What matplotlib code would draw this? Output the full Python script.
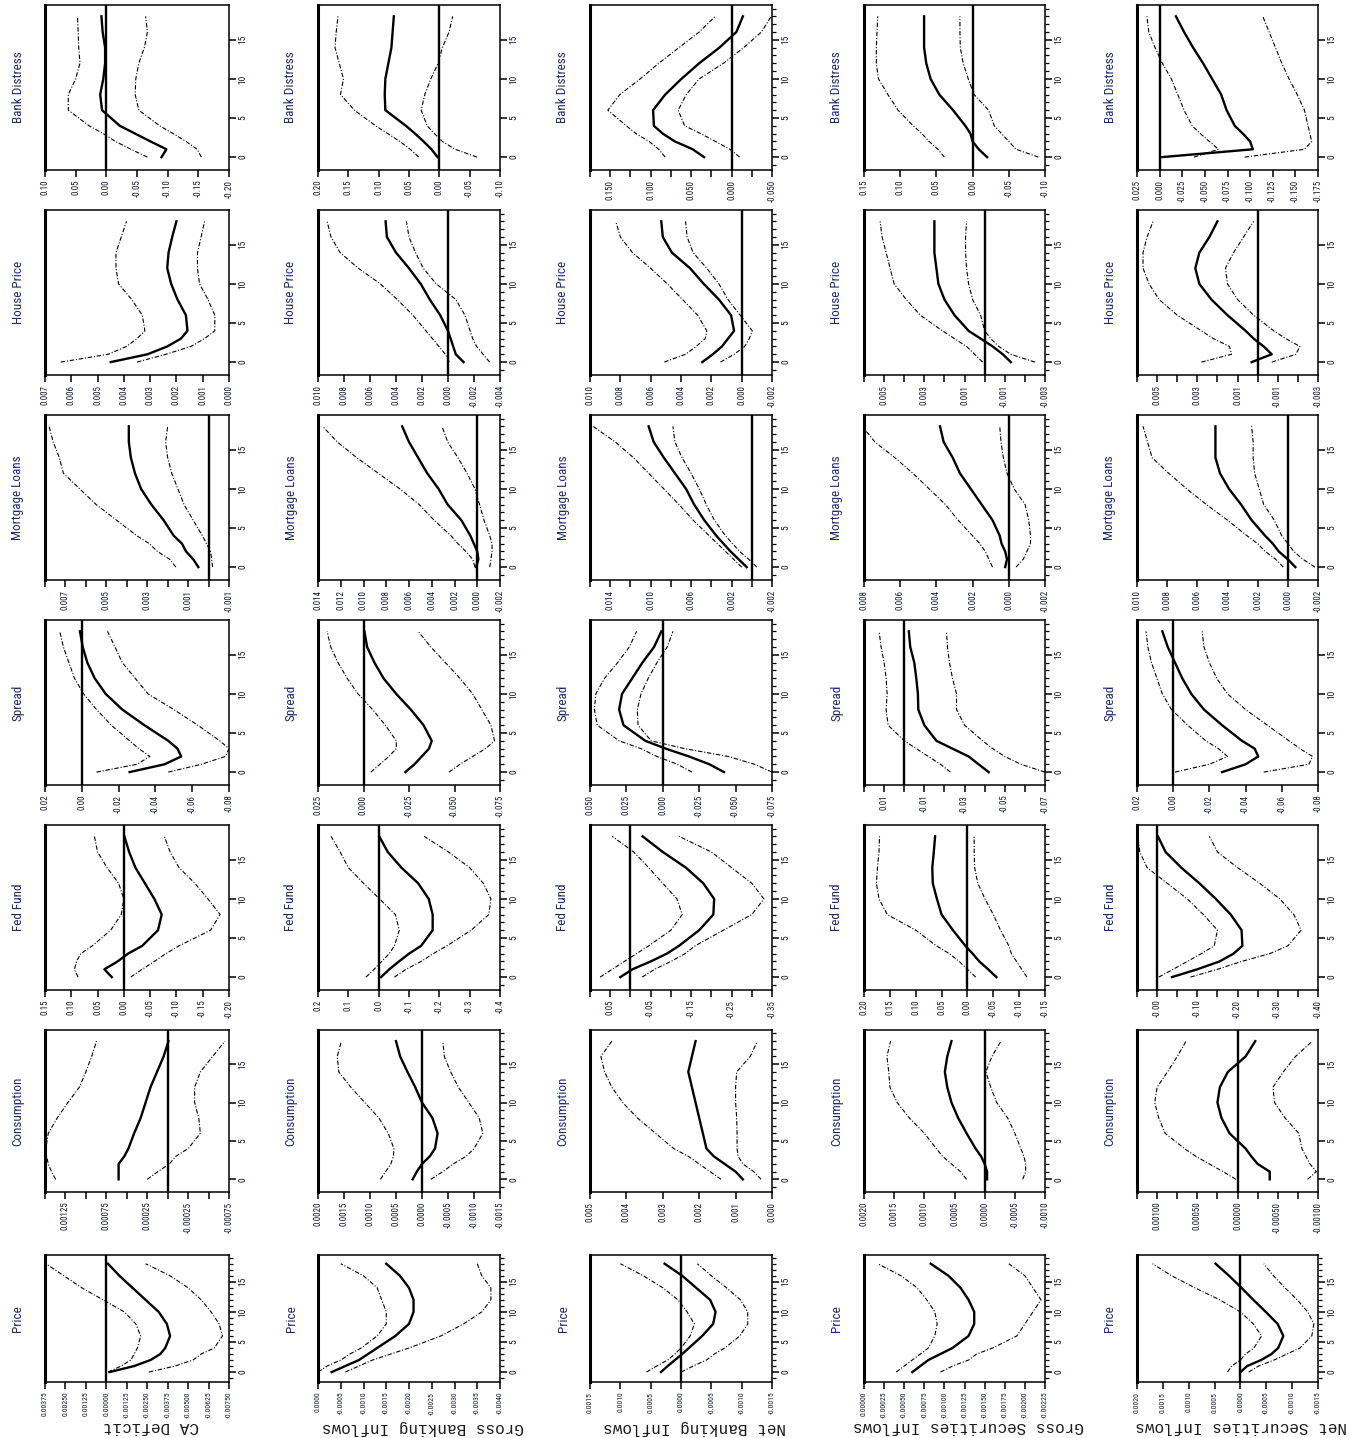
import matplotlib
matplotlib.use("Agg")
import matplotlib.pyplot as plt
from matplotlib import font_manager

horizons = [0, 1, 2, 3, 4, 6, 8, 10, 12, 14, 16, 18]

variables = ["Bank Distress", "House Price", "Mortgage Loans", "Spread",
             "Fed Fund", "Consumption", "Price"]
shocks = ["CA Deficit", "Gross Banking Inflows", "Net Banking Inflows",
          "Gross Securities Inflows", "Net Securities Inflows"]

# each panel: [upper band, point estimate, lower band]
ca_bank = [[-0.067, -0.04, -0.015, 0.005, 0.028, 0.062, 0.062, 0.05, 0.043, 0.045, 0.046, 0.047],
           [-0.09, -0.098, -0.072, -0.047, -0.022, 0.007, 0.01, 0.005, 0.002, 0.002, 0.006, 0.008],
           [-0.155, -0.148, -0.13, -0.109, -0.087, -0.053, -0.047, -0.048, -0.053, -0.062, -0.067, -0.064]]
ca_house = [[0.0064, 0.0046, 0.0039, 0.0035, 0.0032, 0.0033, 0.0037, 0.0042, 0.0043, 0.0043, 0.0041, 0.0039],
            [0.0045, 0.0031, 0.00235, 0.00183, 0.00158, 0.00164, 0.00196, 0.0022, 0.00235, 0.0023, 0.00216, 0.002],
            [0.0035, 0.0024, 0.00145, 0.00093, 0.00054, 0.00054, 0.0008, 0.00112, 0.0012, 0.0012, 0.00106, 0.00093]]
ca_mortgage = [[0.0016, 0.0019, 0.0025, 0.0029, 0.0035, 0.0045, 0.0055, 0.0063, 0.0071, 0.0073, 0.0076, 0.0078],
               [0.0005, 0.00075, 0.0011, 0.0013, 0.0017, 0.0022, 0.0028, 0.0033, 0.0036, 0.0038, 0.0039, 0.0039],
               [-0.0002, -0.00015, -0.0001, 0.0001, 0.0003, 0.00075, 0.0012, 0.0015, 0.0018, 0.002, 0.0021, 0.002]]
ca_spread = [[-0.008, -0.03, -0.037, -0.031, -0.026, -0.016, -0.008, -0.001, 0.004, 0.007, 0.010, 0.012],
             [-0.026, -0.045, -0.054, -0.052, -0.047, -0.034, -0.022, -0.013, -0.007, -0.003, -0.0005, 0.001],
             [-0.047, -0.065, -0.078, -0.08, -0.075, -0.063, -0.05, -0.036, -0.029, -0.022, -0.018, -0.014]]
ca_fed = [[0.087, 0.094, 0.09, 0.082, 0.06, 0.025, 0.005, 0.0, 0.01, 0.032, 0.05, 0.056],
          [0.023, 0.037, 0.012, -0.008, -0.035, -0.065, -0.072, -0.058, -0.04, -0.022, -0.01, -0.001],
          [-0.013, -0.035, -0.058, -0.08, -0.105, -0.165, -0.183, -0.16, -0.135, -0.105, -0.088, -0.077]]
ca_cons = [[0.00137, 0.00142, 0.00146, 0.00148, 0.00149, 0.00146, 0.00135, 0.00122, 0.00108, 0.001, 0.00093, 0.00087],
           [0.0006, 0.0006, 0.0006, 0.00053, 0.00048, 0.00041, 0.00033, 0.00027, 0.00021, 0.00013, 0.00005, -0.00001],
           [0.00025, 0.00012, -0.00002, -0.0001, -0.00025, -0.0004, -0.00038, -0.00033, -0.00033, -0.0004, -0.00055, -0.0007]]
ca_price = [[-0.0001, -0.0009, -0.0015, -0.0017, -0.0019, -0.0021, -0.0018, -0.0011, 0.0002, 0.0015, 0.0026, 0.0037],
            [-0.0002, -0.0017, -0.0027, -0.0033, -0.0036, -0.0039, -0.0037, -0.0032, -0.0024, -0.0016, -0.0008, -0.0001],
            [-0.0026, -0.0042, -0.0053, -0.0058, -0.0066, -0.0071, -0.0069, -0.0064, -0.0058, -0.005, -0.0039, -0.0024]]

gb_bank = [[0.034, 0.048, 0.065, 0.085, 0.105, 0.14, 0.163, 0.158, 0.165, 0.172, 0.17, 0.167],
           [0.003, 0.013, 0.026, 0.04, 0.055, 0.089, 0.09, 0.089, 0.084, 0.079, 0.077, 0.075],
           [-0.062, -0.026, -0.005, 0.008, 0.02, 0.03, 0.024, 0.014, 0.002, -0.005, -0.016, -0.022]]
gb_house = [[-0.0001, 0.0002, 0.0007, 0.0012, 0.0017, 0.0027, 0.0039, 0.0052, 0.0069, 0.0083, 0.009, 0.0093],
            [-0.0012, -0.0006, -0.0004, -0.0002, 0.0, 0.0006, 0.0014, 0.0021, 0.003, 0.004, 0.0047, 0.0048],
            [-0.0032, -0.0027, -0.0022, -0.0019, -0.0017, -0.0013, -0.0006, 0.0009, 0.0019, 0.0025, 0.003, 0.0032]]
gb_mortgage = [[0.0002, 0.0004, 0.001, 0.0017, 0.0023, 0.0038, 0.0051, 0.0068, 0.0087, 0.0106, 0.0123, 0.0136],
               [0.0001, -0.0001, 0.0, 0.0003, 0.0006, 0.0014, 0.0026, 0.0034, 0.0044, 0.0052, 0.006, 0.0066],
               [-0.0011, -0.0012, -0.0013, -0.0013, -0.0011, -0.0006, -0.0002, 0.0002, 0.0009, 0.0017, 0.0026, 0.0031]]
gb_spread = [[-0.004, -0.009, -0.014, -0.018, -0.018, -0.012, -0.005, 0.003, 0.009, 0.014, 0.018, 0.02],
             [-0.023, -0.028, -0.032, -0.036, -0.0375, -0.033, -0.026, -0.018, -0.011, -0.006, -0.002, -0.0005],
             [-0.047, -0.053, -0.06, -0.067, -0.072, -0.07, -0.065, -0.06, -0.053, -0.045, -0.037, -0.03]]
gb_fed = [[0.042, 0.015, -0.01, -0.035, -0.052, -0.068, -0.055, -0.003, 0.05, 0.1, 0.127, 0.157],
          [-0.008, -0.035, -0.067, -0.1, -0.14, -0.178, -0.178, -0.165, -0.13, -0.075, -0.03, -0.002],
          [-0.052, -0.09, -0.14, -0.18, -0.225, -0.305, -0.363, -0.37, -0.345, -0.3, -0.23, -0.15]]
gb_cons = [[0.0008, 0.0007, 0.0006, 0.00055, 0.00054, 0.00065, 0.00083, 0.0011, 0.00137, 0.0016, 0.00163, 0.00155],
           [0.00018, 0.0001, 0.0, -0.00015, -0.00025, -0.0003, -0.0002, 0.0, 0.00013, 0.00028, 0.00042, 0.0005],
           [-0.00017, -0.0004, -0.0006, -0.00085, -0.001, -0.00117, -0.0011, -0.0009, -0.0007, -0.00055, -0.00043, -0.0004]]
gb_price = [[0.0, -0.0002, -0.0005, -0.0007, -0.00095, -0.0013, -0.0015, -0.0015, -0.0014, -0.0013, -0.001, -0.0005],
            [-0.0003, -0.0006, -0.0009, -0.0011, -0.0013, -0.0017, -0.002, -0.0021, -0.0021, -0.002, -0.0018, -0.0015],
            [-0.0006, -0.0009, -0.0012, -0.0016, -0.002, -0.0027, -0.0032, -0.0036, -0.0038, -0.0038, -0.0036, -0.0035]]

nb_bank = [[0.082, 0.09, 0.102, 0.118, 0.13, 0.153, 0.138, 0.113, 0.09, 0.065, 0.04, 0.02],
           [0.034, 0.048, 0.07, 0.085, 0.096, 0.097, 0.082, 0.062, 0.04, 0.015, -0.006, -0.014],
           [-0.01, 0.002, 0.02, 0.038, 0.058, 0.066, 0.056, 0.04, 0.01, -0.015, -0.037, -0.049]]
nb_house = [[0.0051, 0.0037, 0.003, 0.0024, 0.0023, 0.0029, 0.0039, 0.0049, 0.006, 0.0072, 0.008, 0.0083],
            [0.0026, 0.0019, 0.0013, 0.0009, 0.0005, 0.0007, 0.0015, 0.0025, 0.0034, 0.0046, 0.0052, 0.0053],
            [0.0014, 0.0005, -0.0002, -0.0005, -0.0007, 0.0001, 0.0009, 0.0015, 0.0023, 0.0032, 0.0036, 0.0037]]
nb_mortgage = [[0.001, 0.0018, 0.0026, 0.0034, 0.0042, 0.0058, 0.0072, 0.0087, 0.0102, 0.0117, 0.0135, 0.0157],
               [0.0005, 0.0013, 0.0021, 0.0028, 0.0035, 0.0047, 0.0057, 0.0065, 0.0076, 0.0087, 0.0097, 0.0102],
               [-0.0005, 0.0003, 0.0012, 0.0019, 0.0026, 0.0037, 0.0045, 0.0052, 0.006, 0.0069, 0.0076, 0.0078]]
nb_spread = [[-0.02, -0.01, 0.004, 0.015, 0.03, 0.045, 0.047, 0.046, 0.04, 0.031, 0.023, 0.018],
             [-0.042, -0.032, -0.018, -0.002, 0.012, 0.027, 0.03, 0.028, 0.021, 0.014, 0.006, 0.001],
             [-0.075, -0.063, -0.045, -0.015, 0.008, 0.017, 0.0175, 0.015, 0.01, 0.004, -0.003, -0.007]]
nb_fed = [[0.075, 0.045, 0.015, -0.015, -0.045, -0.1, -0.128, -0.115, -0.08, -0.045, -0.008, 0.045],
          [0.025, -0.005, -0.05, -0.09, -0.12, -0.17, -0.205, -0.207, -0.18, -0.137, -0.08, -0.03],
          [-0.029, -0.06, -0.1, -0.135, -0.16, -0.23, -0.3, -0.33, -0.3, -0.25, -0.2, -0.12]]
nb_cons = [[0.0014, 0.0017, 0.002, 0.0023, 0.0027, 0.0032, 0.0037, 0.0041, 0.0044, 0.0046, 0.0047, 0.0044],
           [0.0008, 0.001, 0.0013, 0.0016, 0.0018, 0.0019, 0.002, 0.0021, 0.0022, 0.0023, 0.0022, 0.0021],
           [0.0003, 0.0005, 0.0008, 0.00093, 0.00096, 0.00096, 0.00097, 0.001, 0.001, 0.00097, 0.0006, 0.0004]]
nb_price = [[0.00057, 0.0004, 0.00022, 0.0001, 0.0, -0.00015, -0.00022, -0.0001, 0.00005, 0.0003, 0.00062, 0.001],
            [0.00033, 0.00022, 0.0001, -0.00002, -0.00013, -0.00035, -0.00053, -0.00057, -0.00048, -0.00025, -0.00002, 0.00027],
            [0.0, -0.0002, -0.00042, -0.00055, -0.00072, -0.00097, -0.0011, -0.0011, -0.00098, -0.00075, -0.0005, -0.00027]]

gs_bank = [[0.039, 0.048, 0.06, 0.07, 0.082, 0.103, 0.117, 0.13, 0.133, 0.133, 0.132, 0.131],
           [-0.02, -0.0085, 0.0, 0.003, 0.01, 0.027, 0.046, 0.058, 0.064, 0.067, 0.067, 0.067],
           [-0.091, -0.06, -0.05, -0.04, -0.03, -0.022, -0.002, 0.006, 0.013, 0.017, 0.0175, 0.0175]]
gs_house = [[0.0001, 0.0005, 0.0009, 0.0015, 0.0021, 0.0032, 0.0039, 0.0045, 0.0047, 0.0049, 0.0051, 0.0052],
            [-0.0013, -0.0009, -0.0004, 0.0002, 0.0008, 0.0015, 0.002, 0.0023, 0.0024, 0.0025, 0.0025, 0.0025],
            [-0.0025, -0.0013, -0.0007, -0.0003, 0.0, 0.0002, 0.0006, 0.0008, 0.0009, 0.00095, 0.00095, 0.0009]]
gs_mortgage = [[0.0009, 0.0011, 0.0013, 0.0016, 0.002, 0.0028, 0.0035, 0.0044, 0.0053, 0.0063, 0.0074, 0.0081],
               [0.0002, 0.0001, 0.0002, 0.0004, 0.0005, 0.0009, 0.0015, 0.0021, 0.0027, 0.0031, 0.0036, 0.0038],
               [-0.0004, -0.0008, -0.001, -0.0012, -0.0012, -0.0011, -0.0009, -0.0003, 0.0001, 0.0003, 0.00043, 0.0005]]
gs_spread = [[-0.023, -0.018, -0.012, -0.006, 0.0, 0.008, 0.009, 0.0085, 0.009, 0.01, 0.0115, 0.0125],
             [-0.042, -0.037, -0.032, -0.024, -0.016, -0.01, -0.007, -0.0068, -0.006, -0.005, -0.003, -0.0023],
             [-0.07, -0.058, -0.05, -0.044, -0.039, -0.03, -0.026, -0.026, -0.024, -0.0225, -0.0215, -0.021]]
gs_fed = [[-0.016, 0.0, 0.016, 0.035, 0.06, 0.1, 0.155, 0.171, 0.176, 0.174, 0.171, 0.17],
          [-0.056, -0.04, -0.023, -0.01, 0.004, 0.028, 0.05, 0.059, 0.067, 0.068, 0.065, 0.0625],
          [-0.115, -0.105, -0.095, -0.085, -0.08, -0.064, -0.05, -0.034, -0.02, -0.014, -0.013, -0.013]]
gs_cons = [[0.0003, 0.0004, 0.00055, 0.0007, 0.0008, 0.001, 0.00125, 0.00145, 0.00157, 0.00159, 0.00162, 0.00156],
           [-0.00004, -0.00004, 0.0, 0.00006, 0.00015, 0.0003, 0.00044, 0.00055, 0.00062, 0.00066, 0.00062, 0.00055],
           [-0.00063, -0.00068, -0.00068, -0.00065, -0.0006, -0.0005, -0.00038, -0.0002, -0.0001, -0.00002, -0.00012, -0.00027]]
gs_price = [[-0.0004, -0.0005, -0.0006, -0.0007, -0.0008, -0.00088, -0.00091, -0.00088, -0.00078, -0.00066, -0.00046, -0.00017],
            [-0.0006, -0.0007, -0.0008, -0.00095, -0.0011, -0.0013, -0.00137, -0.00137, -0.0013, -0.0012, -0.00105, -0.00083],
            [-0.00095, -0.0011, -0.0013, -0.0014, -0.0016, -0.0019, -0.002, -0.0021, -0.0022, -0.0021, -0.002, -0.0018]]

ns_bank = [[-0.038, -0.065, -0.055, -0.045, -0.036, -0.027, -0.02, -0.013, -0.003, 0.005, 0.012, 0.014],
           [-0.003, -0.103, -0.1, -0.092, -0.083, -0.074, -0.068, -0.058, -0.048, -0.037, -0.027, -0.018],
           [-0.094, -0.16, -0.168, -0.166, -0.164, -0.16, -0.152, -0.143, -0.135, -0.128, -0.121, -0.114]]
ns_house = [[0.0028, 0.0013, 0.0014, 0.0022, 0.0028, 0.004, 0.0049, 0.0054, 0.0057, 0.0057, 0.0055, 0.0052],
            [0.0003, -0.0007, -0.0003, 0.0002, 0.0006, 0.0015, 0.0023, 0.0029, 0.0031, 0.0029, 0.0024, 0.002],
            [-0.0007, -0.0019, -0.0021, -0.0014, -0.0008, 0.0002, 0.001, 0.0015, 0.0016, 0.0012, 0.0007, 0.0002]]
ns_mortgage = [[0.0003, 0.0008, 0.0015, 0.002, 0.0027, 0.004, 0.0054, 0.0067, 0.0079, 0.009, 0.0093, 0.0096],
               [-0.0005, 0.0, 0.0006, 0.001, 0.0015, 0.0024, 0.0031, 0.0039, 0.0045, 0.0048, 0.0048, 0.0048],
               [-0.0018, -0.001, -0.0004, 0.0, 0.0004, 0.0009, 0.0016, 0.0019, 0.0022, 0.0023, 0.0023, 0.0024]]
ns_spread = [[-0.001, -0.02, -0.03, -0.025, -0.018, -0.008, 0.001, 0.006, 0.009, 0.012, 0.014, 0.015],
             [-0.027, -0.04, -0.047, -0.045, -0.038, -0.027, -0.017, -0.01, -0.005, -0.001, 0.003, 0.006],
             [-0.05, -0.075, -0.077, -0.07, -0.064, -0.052, -0.04, -0.03, -0.024, -0.02, -0.017, -0.016]]
ns_fed = [[-0.004, -0.04, -0.075, -0.11, -0.142, -0.15, -0.115, -0.075, -0.025, 0.025, 0.043, 0.048],
          [-0.037, -0.1, -0.155, -0.19, -0.212, -0.21, -0.183, -0.146, -0.105, -0.06, -0.021, -0.002],
          [-0.083, -0.15, -0.21, -0.28, -0.325, -0.358, -0.34, -0.305, -0.255, -0.2, -0.15, -0.13]]
ns_cons = [[0.00002, 0.00018, 0.00035, 0.00052, 0.00066, 0.0009, 0.00098, 0.00103, 0.001, 0.00087, 0.00075, 0.00064],
           [-0.0004, -0.0004, -0.00025, -0.00017, -0.0001, 0.0001, 0.0002, 0.00025, 0.00022, 0.00012, -0.0001, -0.00022],
           [-0.00087, -0.00098, -0.0009, -0.00085, -0.0008, -0.00076, -0.00059, -0.00046, -0.00044, -0.00057, -0.00072, -0.00093]]
ns_price = [[0.00025, 0.00017, 0.0, -0.0001, -0.00026, -0.00041, -0.00025, 0.0, 0.0004, 0.00088, 0.00133, 0.0017],
            [0.0, -0.00013, -0.0004, -0.0006, -0.00073, -0.00083, -0.00072, -0.00049, -0.00025, -0.00002, 0.00022, 0.00048],
            [-0.00016, -0.00035, -0.00065, -0.0009, -0.00115, -0.00138, -0.00142, -0.0013, -0.0011, -0.00086, -0.00064, -0.00045]]

# value axes per panel: (top of scale, bottom of scale, labelled ticks, unlabelled ticks, decimals)
ca_axes = [(0.10, -0.20, [0.10, 0.05, 0.0, -0.05, -0.10, -0.15, -0.20], [], 2),
           (0.007, 0.0, [0.007, 0.006, 0.005, 0.004, 0.003, 0.002, 0.001, 0.0], [], 3),
           (0.008, -0.001, [0.007, 0.005, 0.003, 0.001, -0.001], [0.008, 0.006, 0.004, 0.002, 0.0], 3),
           (0.02, -0.08, [0.02, 0.0, -0.02, -0.04, -0.06, -0.08], [], 2),
           (0.15, -0.20, [0.15, 0.10, 0.05, 0.0, -0.05, -0.10, -0.15, -0.20], [], 2),
           (0.0015, -0.00075, [0.00125, 0.00075, 0.00025, -0.00025, -0.00075], [0.0015, 0.001, 0.0005, 0.0, -0.0005], 5),
           (0.00375, -0.0075, [0.00375, 0.0025, 0.00125, 0.0, -0.00125, -0.0025, -0.00375, -0.005, -0.00625, -0.0075], [], 5)]
gb_axes = [(0.20, -0.10, [0.20, 0.15, 0.10, 0.05, 0.0, -0.05, -0.10], [], 2),
           (0.010, -0.004, [0.010, 0.008, 0.006, 0.004, 0.002, 0.0, -0.002, -0.004], [], 3),
           (0.014, -0.002, [0.014, 0.012, 0.010, 0.008, 0.006, 0.004, 0.002, 0.0, -0.002], [], 3),
           (0.025, -0.075, [0.025, 0.0, -0.025, -0.050, -0.075], [], 3),
           (0.2, -0.4, [0.2, 0.1, 0.0, -0.1, -0.2, -0.3, -0.4], [], 1),
           (0.002, -0.0015, [0.002, 0.0015, 0.001, 0.0005, 0.0, -0.0005, -0.001, -0.0015], [], 4),
           (0.0, -0.004, [0.0, -0.0005, -0.001, -0.0015, -0.002, -0.0025, -0.003, -0.0035, -0.004], [], 4)]
nb_axes = [(0.175, -0.05, [0.15, 0.10, 0.05, 0.0, -0.05], [0.175, 0.125, 0.075, 0.025, -0.025], 3),
           (0.010, -0.002, [0.010, 0.008, 0.006, 0.004, 0.002, 0.0, -0.002], [], 3),
           (0.016, -0.002, [0.014, 0.010, 0.006, 0.002, -0.002], [0.016, 0.012, 0.008, 0.004, 0.0], 3),
           (0.05, -0.075, [0.050, 0.025, 0.0, -0.025, -0.050, -0.075], [], 3),
           (0.10, -0.35, [0.05, -0.05, -0.15, -0.25, -0.35], [0.10, 0.0, -0.10, -0.20, -0.30], 2),
           (0.005, 0.0, [0.005, 0.004, 0.003, 0.002, 0.001, 0.0], [], 3),
           (0.0015, -0.0015, [0.0015, 0.001, 0.0005, 0.0, -0.0005, -0.001, -0.0015], [], 4)]
gs_axes = [(0.15, -0.10, [0.15, 0.10, 0.05, 0.0, -0.05, -0.10], [], 2),
           (0.006, -0.003, [0.005, 0.003, 0.001, -0.001, -0.003], [0.006, 0.004, 0.002, 0.0, -0.002], 3),
           (0.008, -0.002, [0.008, 0.006, 0.004, 0.002, 0.0, -0.002], [], 3),
           (0.02, -0.07, [0.01, -0.01, -0.03, -0.05, -0.07], [0.02, 0.0, -0.02, -0.04, -0.06], 2),
           (0.20, -0.15, [0.20, 0.15, 0.10, 0.05, 0.0, -0.05, -0.10, -0.15], [], 2),
           (0.002, -0.001, [0.002, 0.0015, 0.001, 0.0005, 0.0, -0.0005, -0.001], [], 4),
           (0.0, -0.00225, [0.0, -0.00025, -0.0005, -0.00075, -0.001, -0.00125, -0.0015, -0.00175, -0.002, -0.00225], [], 5)]
ns_axes = [(0.025, -0.175, [0.025, 0.0, -0.025, -0.050, -0.075, -0.100, -0.125, -0.150, -0.175], [], 3),
           (0.006, -0.003, [0.005, 0.003, 0.001, -0.001, -0.003], [0.006, 0.004, 0.002, 0.0, -0.002], 3),
           (0.010, -0.002, [0.010, 0.008, 0.006, 0.004, 0.002, 0.0, -0.002], [], 3),
           (0.02, -0.08, [0.02, 0.0, -0.02, -0.04, -0.06, -0.08], [], 2),
           (0.05, -0.40, [-0.0, -0.10, -0.20, -0.30, -0.40], [0.05, -0.05, -0.15, -0.25, -0.35], 2),
           (0.00125, -0.001, [0.001, 0.0005, 0.0, -0.0005, -0.001], [0.00125, 0.00075, 0.00025, -0.00025, -0.00075], 5),
           (0.002, -0.0015, [0.002, 0.0015, 0.001, 0.0005, 0.0, -0.0005, -0.001, -0.0015], [], 4)]

columns = [
    ([ca_bank, ca_house, ca_mortgage, ca_spread, ca_fed, ca_cons, ca_price], ca_axes),
    ([gb_bank, gb_house, gb_mortgage, gb_spread, gb_fed, gb_cons, gb_price], gb_axes),
    ([nb_bank, nb_house, nb_mortgage, nb_spread, nb_fed, nb_cons, nb_price], nb_axes),
    ([gs_bank, gs_house, gs_mortgage, gs_spread, gs_fed, gs_cons, gs_price], gs_axes),
    ([ns_bank, ns_house, ns_mortgage, ns_spread, ns_fed, ns_cons, ns_price], ns_axes),
]


def pick_font(*names):
    have = {f.name for f in font_manager.fontManager.ttflist}
    for n in names:
        if n in have:
            return n
    return "DejaVu Sans"


NARROW = pick_font("Liberation Sans Narrow", "Roboto Condensed", "DejaVu Sans")
MONO = pick_font("Liberation Mono", "DejaVu Sans Mono")

# page geometry in pixels (the page is printed sideways)
W, HT = 1361, 1438
col_left = [45, 318, 590, 864, 1137]
col_right = [229, 500, 772, 1045, 1318]
row_top = [5, 210, 415, 620, 825, 1030, 1255]
row_bot = [170, 375, 580, 785, 990, 1192, 1382]

TXT = "#141833"
BAND = (0, (4, 1.6, 1, 1.6))

fig = plt.figure(figsize=(W / 100, HT / 100), dpi=100)
fig.patch.set_facecolor("white")

for c, (panels, specs) in enumerate(columns):
    l, r = col_left[c], col_right[c]
    for k, var in enumerate(variables):
        t, b = row_top[k], row_bot[k]
        up, mid, lo = panels[k]
        hi, low, major, minor, dec = specs[k]
        ax = fig.add_axes([l / W, 1 - b / HT, (r - l) / W, (b - t) / HT])
        ax.plot(up, horizons, color="black", lw=0.8, ls=BAND)
        ax.plot(lo, horizons, color="black", lw=0.8, ls=BAND)
        ax.plot(mid, horizons, color="black", lw=1.7)
        if low < 0 < hi:
            ax.axvline(0, color="black", lw=1.7)
        ax.set_xlim(hi, low)
        ax.set_ylim(-1.65, 19.45)

        small = 5.6 if var == "Price" else 6.5
        ax.set_xticks(major)
        ax.set_xticklabels([f"{v:.{dec}f}" for v in major], rotation=90,
                           fontsize=small, family=NARROW, color=TXT)
        ax.set_xticks(minor, minor=True)
        ax.yaxis.tick_right()
        ax.set_yticks([0, 5, 10, 15])
        ax.set_yticklabels(["0", "5", "10", "15"], rotation=90, va="center",
                           fontsize=6.8, family=NARROW, color=TXT)
        if c in (1, 2, 3) and not (c == 1 and k == 0) or var == "Price":
            ax.set_yticks(range(-1, 20), minor=True)
        ax.tick_params(axis="both", which="major", direction="out", length=5, width=1.1, pad=2)
        ax.tick_params(axis="both", which="minor", direction="out", length=3, width=0.9)
        ax.tick_params(axis="x", which="minor", length=5, width=1.1)
        for side, sp in ax.spines.items():
            sp.set_linewidth(2.2 if side == "left" else 1.1)

        fig.text((l - 27) / W, 1 - (t + b) / 2 / HT, var, rotation=90,
                 ha="center", va="center", fontsize=9.5, family=NARROW, color="#1e2a70")

    fig.text(((l + r) / 2 + 14) / W, 1 - 1427 / HT, shocks[c], rotation=180,
             ha="center", va="center", fontsize=11.5, family=MONO, color="#1a1a1a")

fig.savefig("out.png", dpi=100, facecolor="white")
